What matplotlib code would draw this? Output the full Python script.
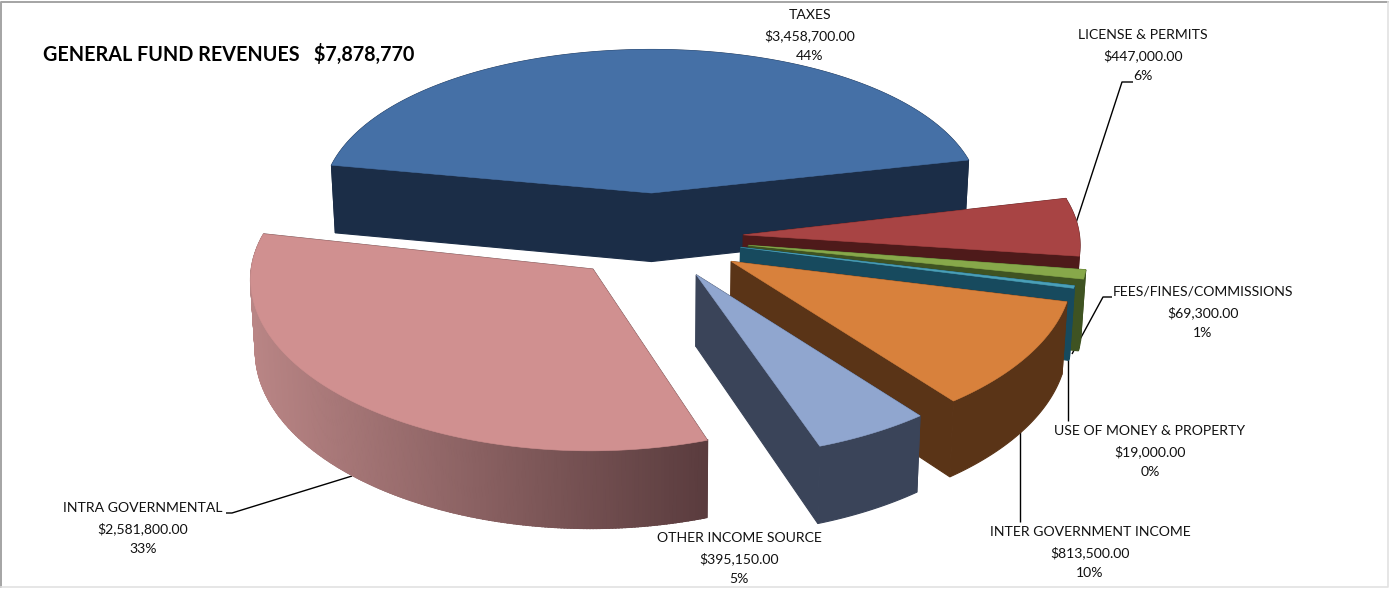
import numpy as np
import matplotlib
matplotlib.use("Agg")
import matplotlib.pyplot as plt
from matplotlib.patches import Polygon

plt.rcParams['font.family'] = ['Lato', 'DejaVu Sans']

# revenue lines, clockwise from the top of the pie
names = ["TAXES", "LICENSE & PERMITS", "FEES/FINES/COMMISSIONS", "USE OF MONEY & PROPERTY",
         "INTER GOVERNMENT INCOME", "OTHER INCOME SOURCE", "INTRA GOVERNMENTAL"]
amounts = [3458700.00, 447000.00, 69300.00, 19000.00, 813500.00, 395150.00, 2581800.00]
title = "GENERAL FUND REVENUES   $7,878,770"

# colours: top face, radial wall, rim at left, rim at right
top_colors = ["#4570a6", "#a84444", "#87a84a", "#4aa0b8", "#d8813c", "#90a6cf", "#d09090"]
wall_colors = ["#1b2d47", "#4e1a1a", "#3f5322", "#174a5e", "#5a3417", "#3a4459", "#5a3c3e"]
rim_left = ["#1b2d47", "#4e1a1a", "#3f5322", "#174a5e", "#5a3417", "#3a4459", "#b98585"]
rim_right = ["#1b2d47", "#4e1a1a", "#3f5322", "#174a5e", "#5a3417", "#3a4459", "#5a3c3e"]

# how far each slice is pulled out of the pie
explode = [0.27, 0.27, 0.29, 0.27, 0.28, 0.27, 0.27]
# extra turn in degrees, opens a gap around the thin slices
turn = [0, 0, 1.0, 2.5, 2.0, 1.5, 1.5]

# centre x of each label block and y of its first line
label_x = [810, 1143, 1203, 1150, 1090, 739, 143]
label_y = [15, 35, 292, 431, 532, 538, 508]

# leader lines, each running from its label to its slice
leaders = [None,
           [(1133, 82), (1122, 82), (1075, 226)],
           [(1112, 297), (1103, 297), (1072, 354)],
           [(1068, 345), (1068, 421)],
           [(1020, 415), (1020, 522)],
           None,
           [(226, 513), (232, 513), (352, 476)]]

# projection of the pie
start_angle = -81.0
cx, cy = 653.0, 235.7
scale_x, scale_y = 335.0, 161.5
persp = 0.08
depth = 70.0
bow = 4.0


def project(u, v, z=0.0):
    # u to the right, v towards the viewer, z downwards from the top face
    u = np.asarray(u, dtype=float)
    v = np.asarray(v, dtype=float)
    w = 1 - persp * v
    x = cx + scale_x * u / w * (1 - 0.012 * z)
    y = cy + scale_y * v / w + z * depth / w - bow * u ** 2
    return np.column_stack([np.atleast_1d(x), np.atleast_1d(y)])


def mix(c1, c2, t):
    a = np.array(matplotlib.colors.to_rgb(c1))
    b = np.array(matplotlib.colors.to_rgb(c2))
    return tuple(a + (b - a) * t)


fig = plt.figure(figsize=(13.91, 5.89), dpi=100)
ax = fig.add_axes([0, 0, 1, 1])
ax.set_xlim(0, 1391)
ax.set_ylim(589, 0)
ax.axis('off')

total = sum(amounts)
spans = [a / total * 360 for a in amounts]
starts = start_angle + np.concatenate([[0], np.cumsum(spans)[:-1]]) + np.array(turn)

# back slices first
draw_order = {0: 2, 1: 3, 6: 4, 2: 5, 3: 6, 4: 7, 5: 8}


def draw_slice(i):
    t = np.radians(np.linspace(starts[i], starts[i] + spans[i], max(int(spans[i] * 2), 6)))
    mid = np.radians(starts[i] + spans[i] / 2)
    ou, ov = explode[i] * np.sin(mid), -explode[i] * np.cos(mid)
    u = ou + np.sin(t)
    v = ov - np.cos(t)
    z = draw_order[i]

    top = project(u, v, 0)
    bot = project(u, v, 1)
    apex_top = project(ou, ov, 0)
    apex_bot = project(ou, ov, 1)

    # radial walls
    for j in [0, -1]:
        pts = np.vstack([apex_top, top[j], bot[j], apex_bot])
        ax.add_patch(Polygon(pts, fc=wall_colors[i], ec=wall_colors[i], lw=0.8, zorder=z))

    # outer wall in one piece, with bands over it where the rim shades across x
    rim = np.vstack([top, bot[::-1]])
    ax.add_patch(Polygon(rim, fc=rim_right[i], ec=rim_right[i], lw=0.8, zorder=z))
    if rim_left[i] != rim_right[i]:
        xmin, xmax = top[:, 0].min(), top[:, 0].max()
        for k in range(len(t) - 1):
            pts = np.vstack([top[k], top[k + 1], bot[k + 1], bot[k]])
            f = (top[k, 0] - xmin) / (xmax - xmin)
            c = mix(rim_left[i], rim_right[i], f)
            ax.add_patch(Polygon(pts, fc=c, ec=c, lw=1.2, zorder=z))

    # top face
    face = np.vstack([apex_top, top])
    ax.add_patch(Polygon(face, fc=top_colors[i], ec=top_colors[i], lw=0.4, zorder=z + 0.5))


for i in range(len(amounts)):
    draw_slice(i)

for path in leaders:
    if path is not None:
        xs, ys = zip(*path)
        ax.plot(xs, ys, color="black", lw=1.0, zorder=1, solid_capstyle='butt')

for i, name in enumerate(names):
    lines = [name, f"${amounts[i]:,.2f}", f"{amounts[i] / total * 100:.0f}%"]
    for n, line in enumerate(lines):
        ax.text(label_x[i], label_y[i] + n * 20.3, line, ha='center', va='center',
                fontsize=10.05, color="#111111", zorder=10)

ax.text(43, 54, title, ha='left', va='center', fontsize=14.25, fontweight='bold',
        color="black", zorder=10)

# chart frame, darker along the top and left
ax.plot([1, 1, 1388], [587, 2, 2], color="#a4a4a4", lw=1.4, zorder=0)
ax.plot([1, 1388, 1388], [587, 587, 2], color="#e2e2e2", lw=1.2, zorder=0)

fig.savefig("out.png", dpi=100)
